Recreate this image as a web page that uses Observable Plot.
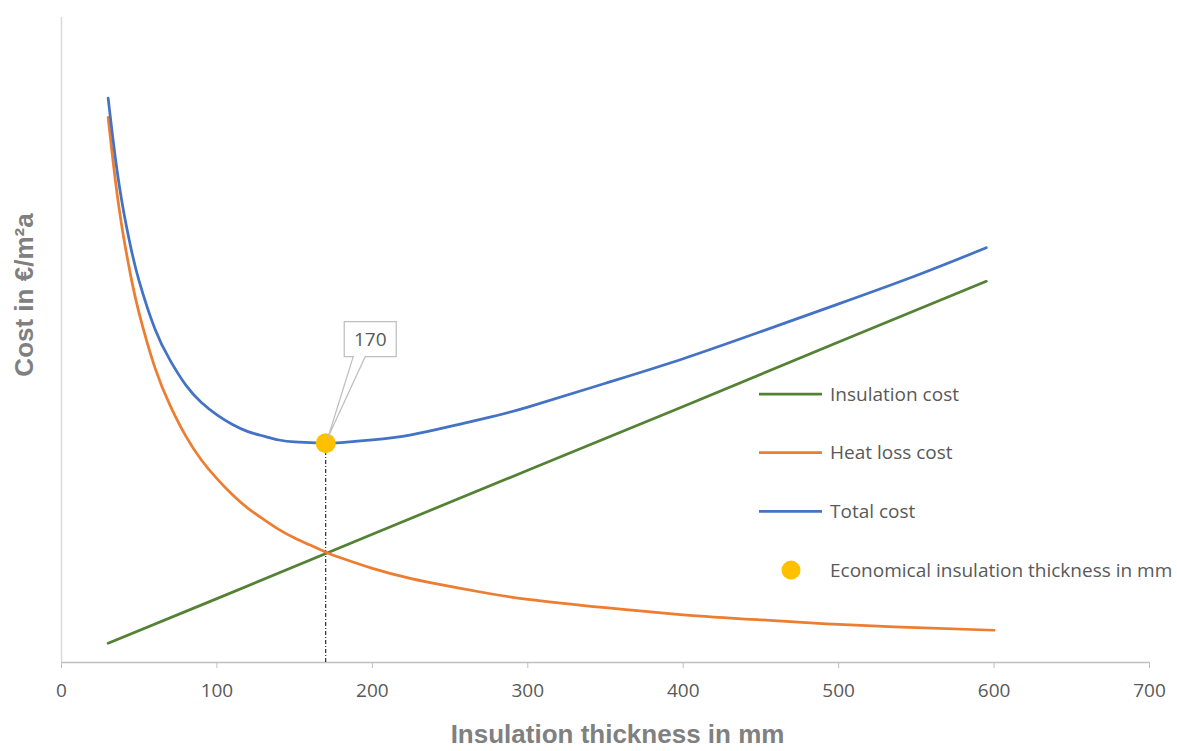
<!DOCTYPE html>
<html>
<head>
<meta charset="utf-8">
<script src="https://cdn.jsdelivr.net/npm/d3@7"></script>
<script src="https://cdn.jsdelivr.net/npm/@observablehq/plot@0.6"></script>
<style>
  html, body { margin: 0; padding: 0; background: #fff; }
  #chart { position: relative; width: 1177px; height: 751px; overflow: hidden; }
</style>
</head>
<body>
<div id="chart"></div>
<script>
// Insulation thickness (mm) and the cost curves (€/m²a, relative units)
const thickness = [30, 35, 40, 45, 50, 60, 70, 80, 90, 100, 110, 120, 130, 140, 150, 160, 170, 180, 200, 225, 250, 275, 300, 350, 400, 450, 500, 550, 600];
const heatLossCost = [84.5, 74.1, 65.9, 59.4, 54.1, 45.8, 39.8, 35.1, 31.4, 28.5, 26.0, 23.9, 22.2, 20.6, 19.3, 18.2, 17.1, 16.2, 14.6, 13.0, 11.8, 10.7, 9.8, 8.5, 7.4, 6.6, 5.9, 5.4, 5.0];

const totalThickness = [30, 35, 40, 45, 50, 60, 70, 80, 90, 100, 110, 120, 130, 140, 150, 160, 170, 180, 200, 225, 250, 275, 300, 350, 400, 450, 500, 550, 595];
const totalCost = [87.5, 77.6, 69.9, 63.9, 59.1, 51.8, 46.8, 43.0, 40.3, 38.4, 36.9, 35.8, 35.1, 34.5, 34.2, 34.1, 34.0, 34.1, 34.5, 35.3, 36.6, 38.0, 39.6, 43.3, 47.1, 51.3, 55.6, 60.0, 64.3];

const insulationThickness = [30, 100, 200, 300, 400, 500, 595];
const insulationCost = [3.0, 9.9, 19.9, 29.8, 39.7, 49.7, 59.1];

// Economical (optimal) thickness and the total cost there
const optimumThickness = 170;
const optimumCost = 34.0;

const xTicks = [0, 100, 200, 300, 400, 500, 600, 700];

const seriesNames = ["Insulation cost", "Heat loss cost", "Total cost", "Economical insulation thickness in mm"];
const seriesColors = ["#548235", "#ED7D31", "#4472C4", "#FFC000"];

const toRows = (xs, ys) => xs.map((x, i) => ({x, y: ys[i]}));
const heatRows = toRows(thickness, heatLossCost);
const totalRows = toRows(totalThickness, totalCost);
const insulationRows = toRows(insulationThickness, insulationCost);
const optimum = [{x: optimumThickness, y: optimumCost}];

const labelFont = "'Open Sans', sans-serif";
const titleFont = "'Liberation Sans', Arial, sans-serif";

const plot = Plot.plot({
  width: 1177,
  height: 751,
  marginLeft: 61,
  marginRight: 28,
  marginTop: 17,
  marginBottom: 89,
  style: {fontFamily: labelFont, fontSize: "19px", color: "#595959", background: "#fff", overflow: "visible"},
  x: {domain: [0, 700], axis: null},
  y: {domain: [0, 100], axis: null},
  marks: [
    Plot.ruleX([0], {stroke: "#d9d9d9", strokeWidth: 1.5}),
    Plot.axisX({ticks: xTicks, tickSize: 6, tickPadding: 15, stroke: "#bfbfbf", fill: "#595959", fontSize: 19, label: null}),
    Plot.ruleY([0], {stroke: "#bfbfbf", strokeWidth: 1.5}),
    Plot.ruleX(optimum, {x: "x", y1: 0, y2: "y", stroke: "#000", strokeWidth: 1, strokeDasharray: "4,2,1,2"}),
    Plot.line(insulationRows, {x: "x", y: "y", stroke: seriesColors[0], strokeWidth: 2.75}),
    Plot.line(heatRows, {x: "x", y: "y", stroke: seriesColors[1], strokeWidth: 2.75, curve: "natural"}),
    Plot.line(totalRows, {x: "x", y: "y", stroke: seriesColors[2], strokeWidth: 2.75, curve: "natural"}),
    Plot.dot(optimum, {x: "x", y: "y", r: 10, fill: seriesColors[3], stroke: "none"}),
    Plot.text(["Insulation thickness in mm"], {frameAnchor: "bottom", lineAnchor: "middle", dx: 12, dy: 72, fontSize: 26, fontWeight: "bold", fill: "#808080", fontFamily: titleFont}),
    Plot.text(["Cost in €/m²a"], {frameAnchor: "left", textAnchor: "middle", lineAnchor: "middle", rotate: -90, dx: -37, dy: -45, fontSize: 26, fontWeight: "bold", fill: "#808080", fontFamily: titleFont})
  ]
});

document.getElementById("chart").appendChild(plot);

const svg = d3.select(plot);
const sx = plot.scale("x"), sy = plot.scale("y");

// Callout box with a pointer to the optimum point
const px = sx.apply(optimumThickness), py = sy.apply(optimumCost);
const bx = px + 19, by = py - 121, bw = 52, bh = 35;
const callout = svg.append("g");
callout.append("path")
  .attr("d", `M${bx},${by} H${bx + bw} V${by + bh} H${bx + 21} L${px + 3},${py - 6} L${bx + 9},${by + bh} H${bx} Z`)
  .attr("fill", "#fff")
  .attr("stroke", "#bfbfbf")
  .attr("stroke-width", 1.25);
callout.append("text")
  .attr("x", bx + bw / 2)
  .attr("y", by + bh / 2)
  .attr("dy", "0.35em")
  .attr("text-anchor", "middle")
  .attr("fill", "#595959")
  .attr("font-family", labelFont)
  .attr("font-size", 19)
  .text(String(optimumThickness));

// Legend inside the plot area
const legend = svg.append("g").attr("transform", "translate(759,394)");
seriesNames.forEach((name, i) => {
  const g = legend.append("g").attr("transform", `translate(0,${i * 58.7})`);
  if (i < 3) {
    g.append("line").attr("x1", 0).attr("x2", 63).attr("y1", 0).attr("y2", 0)
      .attr("stroke", seriesColors[i]).attr("stroke-width", 2.75);
  } else {
    g.append("circle").attr("cx", 32).attr("cy", 0).attr("r", 9.5).attr("fill", seriesColors[i]);
  }
  g.append("text").attr("x", 71).attr("y", 0).attr("dy", "0.35em")
    .attr("text-anchor", "start")
    .attr("fill", "#595959").attr("font-family", labelFont).attr("font-size", 19)
    .text(name);
});
</script>
</body>
</html>
